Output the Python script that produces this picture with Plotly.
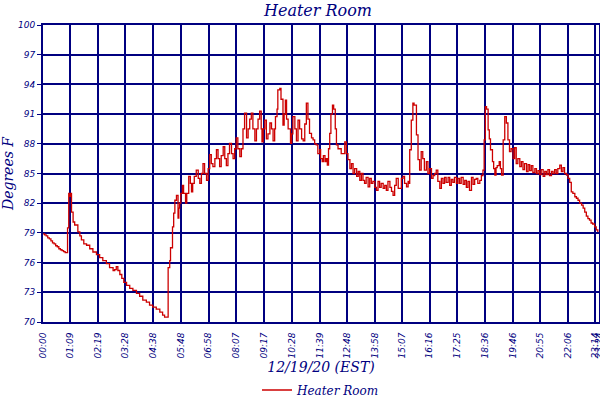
import plotly.graph_objects as go

# minutes since midnight (12/19/20)
minutes = [0,4,8,12,16,20,24,28,32,36,40,44,48,52,56,
 62,65,67,69,72,76,80,88,93,97,103,110,118,126,135,143,151,160,168,177,181,185,189,194,199,204,211,219,227,236,244,252,261,269,277,286,295,302,307,314,
 316,320,322,327,330,333,337,341,343,345,348,352,355,360,363,368,372,375,378,382,387,392,396,400,404,408,413,417,421,425,429,434,438,442,446,450,455,459,463,467,471,476,480,484,488,492,497,501,505,509,514,518,522,526,530,535,539,543,547,551,553,556,560,564,568,573,577,581,585,587,591,593,598,601,606,609,612,615,619,625,628,631,636,640,644,648,653,657,661,665,669,673,678,682,686,690,694,699,701,705,708,712,715,718,721,724,727,731,734,738,741,745,749,753,758,762,766,770,775,779,783,787,792,796,800,804,808,812,816,821,825,829,833,838,842,846,850,854,859,863,867,871,876,880,884,888,892,897,901,905,909,913,918,922,925,926,930,934,937,943,947,951,955,959,963,968,972,976,981,985,989,993,997,1002,1006,1010,1014,1018,1023,1027,1031,1035,1039,1044,1048,1052,1056,1061,1065,1069,1073,1077,1082,1086,1090,1094,1098,1103,1107,1111,1114,1117,1120,1124,1127,1130,1135,1138,1141,1144,1147,1152,1155,1158,1162,1166,1170,1174,1178,1182,1187,1191,1195,1199,1204,1208,1212,1216,1221,1225,1229,1233,1237,1242,1246,1250,1254,1258,1263,1267,1271,1275,1279,1284,1288,1292,1296,1300,1305,1309,1313,1317,1322,1326,1330,1334,1338,1343,1347,1351,1355,1360,1364,1368,1372,1376,1380,1384,1388,1393,1397,1401]

temps = [78.9,78.8,78.7,78.5,78.4,78.2,78.0,77.9,77.7,77.6,77.4,77.3,77.2,77.1,77.0,
 79.5,83.0,82.7,83.0,81.1,80.1,79.8,79.1,78.7,78.3,77.9,77.75,77.4,77.07,76.8,76.5,76.2,75.9,75.5,75.2,75.3,75.6,75.2,74.8,74.4,74.0,73.7,73.4,73.2,72.9,72.6,72.2,72.0,71.7,71.5,71.3,71.0,70.7,70.5,70.5,
 75.5,76.2,77.5,79.6,81.0,82.3,82.8,80.5,81.5,82.0,83.0,83.8,83.0,82.0,83.0,84.7,84.0,83.15,84.0,84.7,85.35,84.5,84.0,85.0,86.0,85.0,84.3,85.5,86.9,86.0,85.7,86.5,87.4,86.5,85.7,86.8,87.7,86.5,85.8,87.0,88.05,87.0,86.5,87.5,88.6,87.5,86.7,87.5,89.5,91.1,88.6,89.5,90.5,91.1,89.5,88.3,89.5,90.5,91.3,89.5,88.2,89.5,90.4,88.5,89.0,90.1,89.5,88.3,89.5,90.75,91.5,93.45,93.6,92.5,89.9,91.0,92.4,90.5,89.5,88.05,89.0,90.75,89.5,88.3,90.4,89.5,88.5,88.3,90.0,92.1,90.5,89.05,88.6,88.4,88.0,87.9,87.0,87.4,86.5,86.2,86.8,86.2,86.5,85.85,87.5,89.05,91.0,91.9,91.5,89.5,87.9,87.5,87.5,87.0,87.0,88.2,87.0,86.4,85.5,86.0,85.0,85.5,84.7,85.2,84.3,85.0,84.3,84.0,84.6,83.65,84.5,84.0,84.2,83.6,83.3,84.2,83.6,84.0,83.5,83.8,83.3,84.2,83.6,83.2,82.8,83.8,84.5,83.5,83.5,84.5,84.7,84.0,83.65,84.2,84.0,87.4,90.4,92.1,91.9,88.9,86.4,85.35,87.2,86.5,85.35,86.2,85.0,85.5,84.5,84.8,85.0,85.35,84.2,83.5,84.5,84.0,84.6,84.1,84.6,83.8,84.4,84.1,84.6,84.0,84.5,84.0,84.6,83.9,84.3,83.6,84.2,83.3,84.6,83.9,84.4,84.5,84.0,84.3,84.8,85.35,88.4,91.76,91.5,89.4,88.5,87.4,86.2,85.5,84.85,85.6,85.8,86.2,85.5,84.85,88.4,90.75,90.1,88.4,87.2,87.5,86.5,87.6,86.0,86.5,85.7,86.2,85.4,86.0,85.2,85.9,85.3,85.8,85.1,85.5,85.0,85.3,84.9,85.4,84.7,85.2,84.9,85.4,84.8,85.2,85.0,85.4,85.0,85.5,85.85,85.2,85.6,85.0,84.85,84.5,84.1,83.15,83.0,82.65,82.5,82.3,82.0,81.8,81.5,81.1,80.7,80.45,80.3,80.0,79.9,79.6,79.3,79.1]

tick_labels = ["00:00","01:09","02:19","03:28","04:38","05:48","06:58","08:07","09:17","10:28",
               "11:39","12:48","13:58","15:07","16:16","17:25","18:36","19:46","20:55","22:06",
               "23:14","23:24"]
y_ticks = [70,73,76,79,82,85,88,91,94,97,100]

tick_vals = [int(t[:2]) * 60 + int(t[3:]) for t in tick_labels]

NAVY = "#000080"
fig = go.Figure()
fig.add_trace(go.Scatter(x=minutes, y=temps, mode="lines", name="Heater Room",
                         line=dict(color="#cc0000", width=1.3, shape="hv")))

fig.update_layout(
    width=600, height=400,
    margin=dict(l=43, r=1, t=25, b=78, autoexpand=False),
    paper_bgcolor="white", plot_bgcolor="white",
    title=dict(text="Heater Room", x=0.53, xanchor="center", y=0.975, yanchor="middle",
               font=dict(family="DejaVu Serif", size=16, color=NAVY, style="italic")),
    showlegend=True,
    legend=dict(orientation="h", x=0.5, xanchor="center", y=0.025, yref="container", yanchor="middle",
                font=dict(family="DejaVu Serif", size=12, color=NAVY, style="italic")),
    xaxis=dict(range=[0, tick_vals[-1]], tickmode="array", tickvals=tick_vals, ticktext=tick_labels,
               tickangle=-90, showgrid=True, gridcolor=NAVY, gridwidth=1.6, automargin=False,
               ticklabeloverflow="allow", ticklabelstandoff=5,
               showline=True, linecolor=NAVY, linewidth=1.8, mirror=True, zeroline=False,
               ticks="", tickfont=dict(family="DejaVu Sans", size=9, color=NAVY, style="italic"),
               title=dict(text="12/19/20 (EST)", standoff=10,
                          font=dict(family="DejaVu Serif", size=14, color=NAVY, style="italic"))),
    yaxis=dict(range=[70, 100], tickmode="array", tickvals=y_ticks, automargin=False,
               showgrid=True, gridcolor=NAVY, gridwidth=1.6,
               showline=True, linecolor=NAVY, linewidth=1.8, mirror=True, zeroline=False,
               ticks="outside", ticklen=4, tickcolor=NAVY,
               tickfont=dict(family="DejaVu Sans", size=9, color=NAVY, style="italic"),
               title=dict(text="Degrees F", standoff=4,
                          font=dict(family="DejaVu Serif", size=14, color=NAVY, style="italic"))),
)

fig.write_html("out.html", config={"displayModeBar": False},
               post_script="document.body.style.margin='0';document.body.style.padding='0';document.body.style.overflow='hidden';")
